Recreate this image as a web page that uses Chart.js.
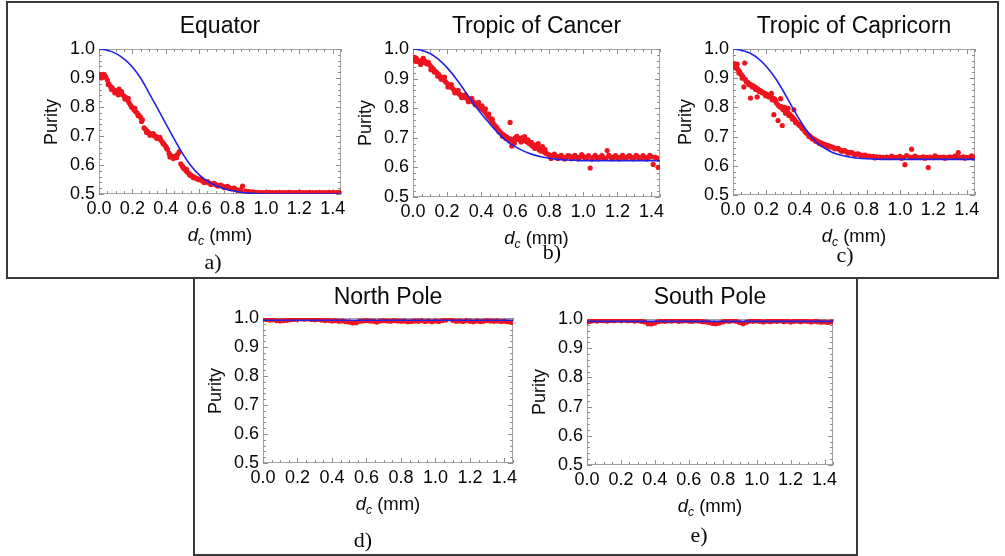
<!DOCTYPE html>
<html><head><meta charset="utf-8">
<script src="https://cdn.jsdelivr.net/npm/chart.js@4.4.1/dist/chart.umd.min.js"></script>
<style>
html,body{margin:0;padding:0;background:#fff;}
body{width:1005px;height:556px;position:relative;overflow:hidden;font-family:"Liberation Sans",Arial,sans-serif;}
.box{position:absolute;border:2px solid #3a3a3a;box-sizing:border-box;}
canvas{position:absolute;}
.title{position:absolute;font-size:23px;line-height:23px;white-space:nowrap;color:#0a0a0a;transform:translateX(-50%);}
.ylab{position:absolute;font-size:18px;line-height:18px;white-space:nowrap;color:#0a0a0a;transform:translate(-50%,-50%) rotate(-90deg);}
.xlab{position:absolute;font-size:18.5px;line-height:19px;white-space:nowrap;color:#0a0a0a;transform:translate(-50%,-50%);}
.xlab sub{font-size:12px;vertical-align:-4px;}
.tag{position:absolute;font-family:"Liberation Serif","Times New Roman",serif;font-size:22px;line-height:22px;color:#0a0a0a;transform:translate(-50%,-50%);}
</style></head><body>
<div class="box" style="left:6px;top:1px;width:993px;height:278px"></div>
<div class="box" style="left:193px;top:277px;width:665px;height:279px"></div>
<script>
// ---------------- DATA ----------------
const xTickValues = [0, 0.2, 0.4, 0.6, 0.8, 1.0, 1.2, 1.4];
const xTickLabels = ['0.0','0.2','0.4','0.6','0.8','1.0','1.2','1.4'];
const yTickValues = [0.5, 0.6, 0.7, 0.8, 0.9, 1.0];
const yTickLabels = ['0.5','0.6','0.7','0.8','0.9','1.0'];

// fitted curves (blue), read every 0.05 mm
const fitX = [0,0.05,0.10,0.15,0.20,0.25,0.30,0.35,0.40,0.45,0.50,0.55,0.60,0.65,0.70,0.75,0.80,0.85,0.90,0.95,1.00,1.05,1.10,1.15,1.20,1.25,1.30,1.35,1.40,1.45];
const eqFitY = [1.000,0.996,0.985,0.966,0.938,0.899,0.848,0.796,0.743,0.690,0.640,0.598,0.566,0.544,0.529,0.518,0.511,0.506,0.503,0.501,0.500,0.500,0.500,0.500,0.500,0.500,0.500,0.500,0.500,0.500];
const caFitY = [1.000,0.996,0.985,0.965,0.937,0.902,0.862,0.820,0.782,0.748,0.716,0.690,0.670,0.655,0.644,0.636,0.631,0.627,0.625,0.624,0.623,0.623,0.623,0.623,0.623,0.623,0.623,0.623,0.623,0.623];
const cpFitY = [1.000,0.996,0.986,0.968,0.940,0.903,0.857,0.806,0.757,0.713,0.680,0.660,0.645,0.636,0.630,0.626,0.624,0.623,0.622,0.622,0.622,0.622,0.622,0.622,0.622,0.622,0.622,0.622,0.622,0.622];
const poleFitX = [0,0.5,1.0,1.45];
const npFitY = [0.992,0.992,0.992,0.992];
const spFitY = [0.992,0.992,0.992,0.992];

// measured purity (red)
const eqRedX = [0.00,0.01,0.02,0.03,0.04,0.05,0.06,0.07,0.08,0.09,
0.10,0.11,0.12,0.13,0.14,0.15,0.16,0.17,0.18,0.19,
0.20,0.21,0.22,0.23,0.24,0.25,0.26,0.27,0.28,0.29,
0.30,0.31,0.32,0.33,0.34,0.35,0.36,0.37,0.38,0.39,
0.40,0.41,0.42,0.43,0.44,0.45,0.46,0.47,0.48,0.49,
0.50,0.51,0.52,0.53,0.54,0.55,0.56,0.57,0.58,0.59,
0.60,0.62,0.64,0.66,0.68,0.70,0.72,0.74,0.76,0.78,
0.80,0.82,0.84,0.86,0.88,0.90,0.92,0.94,0.96,0.98,
1.00,1.02,1.04,1.06,1.08,1.10,1.12,1.14,1.16,1.18,
1.20,1.22,1.24,1.26,1.28,1.30,1.32,1.34,1.36,1.38,
1.40,1.42,1.44,
0.015,0.035,0.055,0.075,0.095,0.115,0.135,0.155,0.175,0.195,
0.215,0.235,0.255,0.285,0.305,0.325,0.345,0.365,0.385,0.405,
0.425,0.445,0.465,0.505,0.525,0.545,0.565,0.61,0.63,0.65,
0.67,0.69,0.71,0.73,0.75,0.77,0.79,0.81,0.83,0.85];
const eqRedY = [0.905,0.912,0.910,0.913,0.903,0.893,0.880,0.870,0.866,0.858,
0.856,0.850,0.862,0.846,0.843,0.838,0.833,0.824,0.815,0.806,
0.798,0.790,0.784,0.778,0.771,0.764,0.756,0.728,0.722,0.716,
0.710,0.707,0.704,0.701,0.699,0.696,0.692,0.686,0.679,0.672,
0.664,0.654,0.640,0.632,0.628,0.629,0.631,0.636,0.645,0.604,
0.596,0.588,0.581,0.575,0.570,0.565,0.561,0.558,0.555,0.552,
0.549,0.545,0.541,0.538,0.535,0.532,0.529,0.527,0.524,0.522,
0.519,0.516,0.513,0.527,0.510,0.508,0.507,0.506,0.506,0.505,
0.505,0.506,0.505,0.505,0.506,0.505,0.505,0.506,0.505,0.505,
0.506,0.505,0.505,0.506,0.505,0.505,0.506,0.505,0.505,0.506,
0.505,0.505,0.506,
0.900,0.908,0.878,0.860,0.849,0.842,0.853,0.828,0.830,0.800,
0.795,0.770,0.750,0.712,0.703,0.708,0.692,0.695,0.672,0.658,
0.628,0.622,0.625,0.590,0.585,0.565,0.556,0.552,0.540,0.543,
0.533,0.537,0.528,0.531,0.522,0.526,0.518,0.520,0.512,0.514];

const caRedX = [0.00,0.01,0.02,0.03,0.04,0.05,0.06,0.07,0.08,0.09,
0.10,0.11,0.12,0.13,0.14,0.15,0.16,0.17,0.18,0.19,
0.20,0.21,0.22,0.23,0.24,0.25,0.26,0.27,0.28,0.29,
0.30,0.31,0.32,0.33,0.34,0.35,0.36,0.37,0.38,0.39,
0.40,0.41,0.42,0.43,0.44,0.45,0.46,0.47,0.48,0.49,
0.50,0.51,0.52,0.53,0.54,0.55,0.56,0.57,0.58,0.59,
0.60,0.61,0.62,0.63,0.64,0.65,0.66,0.67,0.68,0.69,
0.70,0.71,0.72,0.73,0.74,0.75,0.76,0.77,0.78,0.79,0.80,
0.82,0.84,0.86,0.88,0.90,0.92,0.94,0.96,0.98,1.00,
1.02,1.04,1.06,1.08,1.10,1.12,1.14,1.16,1.18,1.20,
1.22,1.24,1.26,1.28,1.30,1.32,1.34,1.36,1.38,1.40,1.42,1.44,
1.41,1.43,0.015,0.045,0.065,0.105,0.125,0.145,0.165,0.185,
0.205,0.225,0.245,0.265,0.285,0.305,0.325,0.345,0.365,0.385,
0.405,0.425,0.445,0.465,0.485,0.505,0.525,0.545,0.565,0.575,
0.595,0.615,0.635,0.655,0.675,0.695,0.715,0.735,0.755,0.775,
0.81,0.83,0.85,0.87,0.89,0.91,0.93,0.95,0.97,0.99,
1.01,1.03,1.05,1.07,1.09,1.11,1.13,1.15,1.17,1.19,
1.21,1.23,1.25,1.27,1.29,1.31,1.33,1.35,1.37,1.39];
const caRedY = [0.965,0.972,0.968,0.960,0.955,0.962,0.968,0.958,0.950,0.955,
0.945,0.938,0.932,0.925,0.920,0.914,0.908,0.903,0.897,0.890,
0.884,0.878,0.872,0.868,0.862,0.858,0.853,0.848,0.845,0.841,
0.838,0.835,0.832,0.829,0.826,0.822,0.818,0.813,0.810,0.806,
0.800,0.795,0.789,0.782,0.774,0.766,0.757,0.750,0.742,0.735,
0.728,0.721,0.715,0.710,0.706,0.702,0.698,0.752,0.672,0.690,
0.700,0.705,0.698,0.692,0.700,0.696,0.690,0.686,0.682,0.678,
0.672,0.676,0.668,0.674,0.660,0.655,0.670,0.652,0.648,0.645,0.642,
0.640,0.638,0.636,0.635,0.634,0.638,0.633,0.636,0.634,0.637,
0.632,0.598,0.635,0.633,0.636,0.632,0.657,0.634,0.636,0.633,
0.635,0.632,0.636,0.634,0.633,0.636,0.632,0.635,0.633,0.636,0.634,0.600,
0.610,0.632,0.958,0.948,0.955,0.930,0.922,0.908,0.898,0.905,
0.872,0.880,0.852,0.860,0.836,0.845,0.822,0.833,0.812,0.820,
0.808,0.798,0.780,0.763,0.735,0.720,0.705,0.698,0.690,0.696,
0.682,0.695,0.686,0.704,0.693,0.685,0.664,0.680,0.664,0.660,
0.630,0.645,0.630,0.641,0.628,0.640,0.629,0.641,0.628,0.643,
0.630,0.640,0.628,0.641,0.629,0.640,0.630,0.641,0.629,0.640,
0.628,0.641,0.630,0.640,0.629,0.641,0.630,0.640,0.628,0.641];

const cpRedX = [0.00,0.01,0.02,0.03,0.04,0.05,0.06,0.07,0.08,0.09,
0.10,0.11,0.12,0.13,0.14,0.15,0.16,0.17,0.18,0.19,
0.20,0.21,0.22,0.23,0.24,0.25,0.26,0.27,0.28,0.29,
0.30,0.31,0.32,0.33,0.34,0.35,0.36,0.37,0.38,0.39,
0.40,0.41,0.42,0.43,0.44,0.45,0.46,0.47,0.48,0.49,
0.50,0.51,0.52,0.53,0.54,0.55,0.56,0.57,0.58,0.59,0.60,
0.62,0.64,0.66,0.68,0.70,0.72,0.74,0.76,0.78,0.80,
0.82,0.84,0.86,0.88,0.90,0.92,0.94,0.96,0.98,1.00,
1.02,1.04,1.06,1.08,1.10,1.12,1.14,1.16,1.18,1.20,
1.22,1.24,1.26,1.28,1.30,1.32,1.34,1.36,1.38,1.40,1.42,1.44,
0.025,0.065,0.075,0.105,0.145,0.235,0.245,0.27,0.285,0.295,
0.365,0.29,0.31,0.33,0.015,0.035,0.055,0.095,0.115,
0.135,0.155,0.175,0.195,0.215,0.255,0.315,0.335,0.355,0.375,
0.395,0.415,0.435,0.455,0.475,0.495,0.515,0.535,0.555,0.575,
0.61,0.63,0.65,0.67,0.69,0.71,0.73,0.75,0.77,0.79,
1.03,1.07,1.17,1.35,0.85,0.95,1.01,1.09,1.15,1.21,
1.27,1.33,1.39,1.43];
const cpRedY = [0.950,0.945,0.938,0.930,0.922,0.912,0.905,0.952,0.888,0.885,
0.880,0.876,0.874,0.870,0.866,0.862,0.858,0.855,0.851,0.848,
0.845,0.842,0.840,0.848,0.832,0.828,0.816,0.808,0.802,0.800,
0.792,0.789,0.785,0.781,0.776,0.770,0.764,0.757,0.750,0.744,
0.738,0.732,0.726,0.719,0.712,0.707,0.702,0.697,0.693,0.690,
0.686,0.683,0.680,0.677,0.675,0.673,0.671,0.669,0.667,0.665,0.663,
0.659,0.655,0.651,0.648,0.645,0.642,0.640,0.638,0.636,0.634,
0.633,0.632,0.631,0.630,0.629,0.630,0.628,0.630,0.629,0.632,
0.628,0.635,0.630,0.629,0.630,0.628,0.631,0.629,0.630,0.628,
0.631,0.629,0.630,0.628,0.631,0.629,0.630,0.628,0.631,0.629,0.630,0.628,
0.948,0.870,0.895,0.832,0.836,0.826,0.775,0.755,0.830,0.738,
0.792,0.803,0.800,0.797,0.935,0.918,0.900,0.878,0.870,
0.862,0.855,0.850,0.840,0.836,0.822,0.780,0.772,0.760,0.748,
0.740,0.728,0.716,0.700,0.692,0.684,0.677,0.672,0.668,0.664,
0.658,0.660,0.650,0.652,0.643,0.646,0.637,0.641,0.633,0.637,
0.604,0.657,0.594,0.645,0.627,0.633,0.626,0.633,0.626,0.634,
0.626,0.633,0.626,0.634];

const poleRedX = [0.00,0.02,0.04,0.06,0.08,0.10,0.12,0.14,0.16,0.18,
0.20,0.22,0.24,0.26,0.28,0.30,0.32,0.34,0.36,0.38,
0.40,0.42,0.44,0.46,0.48,0.50,0.52,0.54,0.56,0.58,
0.60,0.62,0.64,0.66,0.68,0.70,0.72,0.74,0.76,0.78,
0.80,0.82,0.84,0.86,0.88,0.90,0.92,0.94,0.96,0.98,
1.00,1.02,1.04,1.06,1.08,1.10,1.12,1.14,1.16,1.18,
1.20,1.22,1.24,1.26,1.28,1.30,1.32,1.34,1.36,1.38,
1.40,1.42,1.44];
const npRedY = [0.996,0.995,0.993,0.994,0.991,0.990,0.991,0.992,0.994,0.995,
0.996,0.997,0.996,0.997,0.995,0.994,0.995,0.993,0.991,0.992,
0.990,0.991,0.989,0.990,0.988,0.986,0.983,0.984,0.989,0.990,
0.991,0.990,0.989,0.986,0.990,0.991,0.990,0.989,0.991,0.990,
0.989,0.990,0.987,0.988,0.990,0.989,0.991,0.988,0.990,0.987,
0.990,0.988,0.991,0.993,0.998,0.992,0.989,0.990,0.988,0.991,
0.989,0.987,0.990,0.988,0.989,0.991,0.990,0.989,0.990,0.988,
0.989,0.987,0.985];
const spRedY = [0.990,0.992,0.994,0.993,0.995,0.994,0.993,0.995,0.994,0.996,
0.995,0.996,0.994,0.995,0.993,0.994,0.992,0.990,0.984,0.983,
0.986,0.991,0.993,0.992,0.994,0.993,0.994,0.992,0.993,0.994,
0.993,0.992,0.994,0.993,0.991,0.990,0.988,0.985,0.984,0.986,
0.990,0.993,0.992,0.994,0.992,0.988,0.984,0.989,0.993,0.992,
0.994,0.992,0.990,0.993,0.991,0.993,0.992,0.994,0.991,0.993,
0.990,0.992,0.993,0.991,0.993,0.992,0.990,0.992,0.991,0.989,
0.990,0.988,0.990];

// ---------------- LAYOUT ----------------
const panels = [
  {title:'Equator', tag:'a)', plot:[99,49,341,194], tagAt:[213,262], titleTop:13.5,
   red:[eqRedX,eqRedY], fit:[fitX,eqFitY]},
  {title:'Tropic of Cancer', tag:'b)', plot:[413,49,660,197], tagAt:[552,252], titleTop:13.5,
   red:[caRedX,caRedY], fit:[fitX,caFitY]},
  {title:'Tropic of Capricorn', tag:'c)', plot:[733,49,975,195], tagAt:[845,255], titleTop:13.5,
   red:[cpRedX,cpRedY], fit:[fitX,cpFitY]},
  {title:'North Pole', tag:'d)', plot:[263,318,513,463], tagAt:[363,540], titleTop:285,
   red:[poleRedX,npRedY], fit:[poleFitX,npFitY]},
  {title:'South Pole', tag:'e)', plot:[587,319,833,465], tagAt:[699,535], titleTop:285,
   red:[poleRedX,spRedY], fit:[poleFitX,spFitY]}
];

const RED = 'rgb(238,20,30)';
const BLUE = 'rgb(34,34,226)';
const PADL = 70, PADT = 15, PADR = 25, PADB = 40;

const framePlugin = {
  id: 'frame',
  beforeDatasetsDraw(chart) {
    const {ctx, chartArea: a, scales} = chart;
    const x = scales.x, y = scales.y;
    ctx.save();
    ctx.strokeStyle = '#a4a4a4';
    ctx.lineWidth = 1;
    ctx.strokeRect(a.left + 0.5, a.top + 0.5, a.right - a.left - 1, a.bottom - a.top - 1);
    ctx.strokeStyle = '#8e8e8e';
    ctx.beginPath();
    for (let i = 0; i * 0.05 <= x.max + 1e-9; i++) {
      const px = Math.round(x.getPixelForValue(i * 0.05)) + 0.5;
      const len = (i % 4 === 0) ? 5 : 3;
      ctx.moveTo(px, a.bottom); ctx.lineTo(px, a.bottom - len);
      ctx.moveTo(px, a.top); ctx.lineTo(px, a.top + len);
    }
    for (let i = 0; i <= 25; i++) {
      const py = Math.round(y.getPixelForValue(0.5 + i * 0.02)) + 0.5;
      const len = (i % 5 === 0) ? 5 : 3;
      ctx.moveTo(a.left, py); ctx.lineTo(a.left + len, py);
      ctx.moveTo(a.right, py); ctx.lineTo(a.right - len, py);
    }
    ctx.stroke();
    ctx.restore();
  }
};

function addText(cls, html, x, y) {
  const d = document.createElement('div');
  d.className = cls; d.innerHTML = html;
  d.style.left = x + 'px'; d.style.top = y + 'px';
  document.body.appendChild(d);
}

const tickFont = {family: "'Liberation Sans', Arial, sans-serif", size: 18};

panels.forEach(p => {
  const [l, t, r, b] = p.plot;
  const cv = document.createElement('canvas');
  const W = (r - l) + PADL + PADR, H = (b - t) + PADT + PADB;
  cv.width = W; cv.height = H;
  cv.style.left = (l - PADL) + 'px'; cv.style.top = (t - PADT) + 'px';
  cv.style.width = W + 'px'; cv.style.height = H + 'px';
  document.body.appendChild(cv);

  const redPts = p.red[0].map((v, i) => ({x: v, y: p.red[1][i]}));
  const fitPts = p.fit[0].map((v, i) => ({x: v, y: p.fit[1][i]}));

  new Chart(cv, {
    type: 'scatter',
    data: {datasets: [
      {label: 'fit', data: fitPts, showLine: true, borderColor: BLUE, borderWidth: 1.6,
       pointRadius: 0, fill: false, cubicInterpolationMode: 'monotone'},
      {label: 'data', data: redPts, backgroundColor: RED, borderWidth: 0, pointRadius: 2.6}
    ]},
    options: {
      responsive: false, animation: false, devicePixelRatio: 1,
      layout: {padding: {left: 0, top: PADT, right: PADR, bottom: 0}},
      plugins: {legend: {display: false}, tooltip: {enabled: false}, title: {display: false}},
      scales: {
        x: {type: 'linear', min: 0, max: 1.45,
            afterBuildTicks: s => { s.ticks = xTickValues.map(v => ({value: v})); },
            afterFit: s => { s.height = PADB; },
            ticks: {autoSkip: false, maxRotation: 0, padding: 4, font: tickFont, color: '#050505',
                    callback: (v, i) => xTickLabels[i]},
            grid: {display: false, drawTicks: false}, border: {display: false}},
        y: {type: 'linear', min: 0.5, max: 1.0,
            afterBuildTicks: s => { s.ticks = yTickValues.map(v => ({value: v})); },
            afterFit: s => { s.width = PADL; },
            ticks: {autoSkip: false, padding: 4, font: tickFont, color: '#050505',
                    callback: (v, i) => yTickLabels[i]},
            grid: {display: false, drawTicks: false}, border: {display: false}}
      }
    },
    plugins: [framePlugin]
  });

  const cx = (l + r) / 2;
  addText('title', p.title, cx, p.titleTop);
  addText('ylab', 'Purity', l - 48, (t + b) / 2);
  addText('xlab', '<i>d<sub>c</sub></i> (mm)', cx, b + 44);
  addText('tag', p.tag, p.tagAt[0], p.tagAt[1]);
});
</script>
</body></html>
